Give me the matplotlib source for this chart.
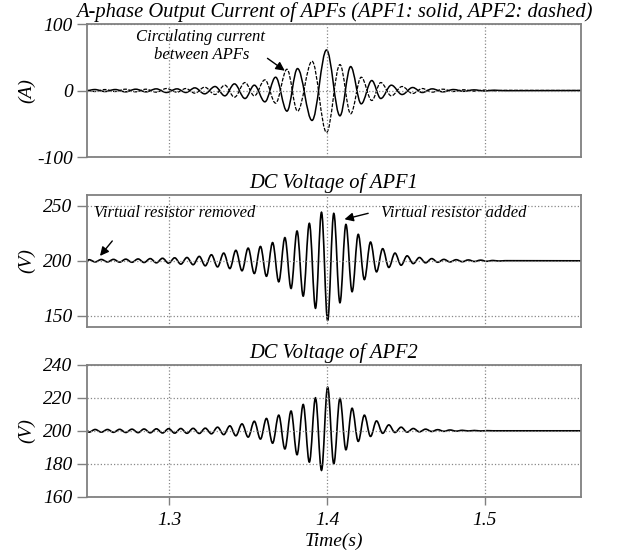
import matplotlib
matplotlib.use("Agg")
import matplotlib.pyplot as plt
from matplotlib.path import Path
from matplotlib.patches import PathPatch

plt.rcParams['font.family'] = ['Liberation Serif', 'DejaVu Serif']
plt.rcParams['font.style'] = 'italic'
plt.rcParams['axes.unicode_minus'] = False

################################### CURRENT (A) ##########################################
# lobe centres of the A-phase output currents (extremes of each half cycle)
t_cur = [1.248, 1.2527, 1.2592, 1.2657, 1.2722, 1.2787, 1.2852, 1.2917, 1.2982, 1.3049,
         1.3105, 1.3162, 1.3224, 1.3290, 1.3352, 1.3413, 1.3480, 1.3539, 1.3606, 1.3674,
         1.3746, 1.3813, 1.3905, 1.3997, 1.4082, 1.4150, 1.4217, 1.4284, 1.4341, 1.4408,
         1.4476, 1.4543, 1.4604, 1.4667, 1.4735, 1.4802, 1.4867, 1.4932, 1.4997, 1.5062,
         1.5127, 1.561]
i_apf1 = [0, 1.5, -1.5, 1.5, -2, 2, -2, 2.5, -3, 2.5,
          -3, 4, -5, 6, -8, 10, -12, 8, -17, 20,
          -31, 33, -45, 61, -38, 36, -20, 15, -12, 8,
          -6, 4.5, -3, 2.5, -2, 1.5, -1.2, 1, -0.7, 0.5,
          -0.3, 0]
i_apf2 = [0, -1.5, 1.5, -1.5, 2, -2, 2, -2.5, 3, -2.5,
          3, -4, 5, -6, 8, -10, 12, -8, 16, -19,
          32, -31, 44, -63, 39, -35, 20, -15, 12, -8,
          6, -4.5, 3, -2.5, 2, -1.5, 1.2, -1, 0.7, -0.5,
          0.3, 0]
##########################################################################################

################################### DC VOLTAGES (V) ######################################
# extremes of the dc-link ripple (APF1 and APF2 swing in opposite directions)
t_dc = [1.248, 1.2491, 1.2530, 1.2569, 1.2608, 1.2646, 1.2685, 1.2724, 1.2763, 1.2802,
        1.2840, 1.2879, 1.2918, 1.2957, 1.2996, 1.3034, 1.3073, 1.3112, 1.3151, 1.3190,
        1.3228, 1.3267, 1.3306, 1.3345, 1.3384, 1.3422, 1.3461, 1.3500, 1.3539, 1.3578,
        1.3616, 1.3655, 1.3694, 1.3733, 1.3772, 1.3810, 1.3849, 1.3888, 1.3927, 1.3965,
        1.4004, 1.4043, 1.4082, 1.4120, 1.4159, 1.4198, 1.4237, 1.4276, 1.4314, 1.4353,
        1.4392, 1.4431, 1.4470, 1.4508, 1.4547, 1.4586, 1.4625, 1.4664, 1.4702, 1.4741,
        1.4780, 1.4819, 1.4858, 1.4896, 1.4935, 1.4974, 1.5013, 1.5052, 1.5090, 1.5129,
        1.561]
v_apf1 = [200, 201, 199, 201.2, 199, 201.3, 198.8, 201.5, 198.7, 201.7,
          198.5, 202, 198.2, 202.3, 197.8, 202.7, 197, 203, 196.5, 204,
          195.5, 205.5, 194.5, 207, 193, 209.5, 191, 211.5, 188.5, 213,
          186, 216.5, 181, 221, 175, 227, 168, 234, 157, 244,
          146, 243, 162, 233, 172, 224, 183, 217, 190, 211,
          194, 207, 196, 204.5, 197.5, 203, 198.2, 202, 198.7, 201.3,
          199, 201, 199.2, 200.8, 199.4, 200.6, 199.6, 200.3, 199.8, 200.1,
          200]
v_apf2 = [200, 199.2, 200.8, 199.2, 200.8, 199.1, 200.9, 199, 201, 198.9,
          201.1, 198.8, 201.2, 198.7, 201.3, 198.6, 201.4, 198.5, 201.5, 198.4,
          201.6, 198.2, 202.2, 197.7, 203, 197, 204.2, 196.2, 205.8, 195,
          207.5, 192.5, 209.5, 189, 212, 185.5, 216, 181, 220, 176,
          226.5, 180, 219.7, 188.5, 213.7, 193.6, 209.5, 196.6, 206, 198.5,
          203.6, 199, 202.2, 199.2, 201.4, 199.4, 201, 199.6, 200.7, 199.7,
          200.5, 199.8, 200.3, 199.9, 200.2, 199.9, 200.1, 200, 200, 200,
          200]
##########################################################################################

x_ticks = [1.3, 1.4, 1.5]
x_tick_labels = ['1.3', '1.4', '1.5']
y_ticks = [[-100, 0, 100], [150, 200, 250], [160, 180, 200, 220, 240]]
y_lims = [(-100, 100), (140, 260), (160, 240)]


def wave(ax, t, v, **kw):
    # smooth curve through the extremes (flat tangent at every peak / trough)
    verts = [(t[0], v[0])]
    codes = [Path.MOVETO]
    for i in range(1, len(t)):
        dt = t[i] - t[i - 1]
        verts += [(t[i - 1] + 0.36 * dt, v[i - 1]), (t[i] - 0.36 * dt, v[i]), (t[i], v[i])]
        codes += [Path.CURVE4] * 3
    ax.add_patch(PathPatch(Path(verts, codes), fill=False, edgecolor='black', **kw))


######################################## PLOT ############################################
fig = plt.figure(figsize=(6.17, 5.56), dpi=100)
ax1 = fig.add_axes([0.1415, 0.7176, 0.800, 0.2392])
ax2 = fig.add_axes([0.1415, 0.4119, 0.800, 0.2380])
ax3 = fig.add_axes([0.1415, 0.1067, 0.800, 0.2369])

wave(ax1, t_cur, i_apf1, lw=1.1)
wave(ax1, t_cur, i_apf2, lw=0.9, linestyle=(0, (3, 1.2)))
wave(ax2, t_dc, v_apf1, lw=1.2)
wave(ax3, t_dc, v_apf2, lw=1.2)

titles = ['A-phase Output Current of APFs (APF1: solid, APF2: dashed)',
          'DC Voltage of APF1', 'DC Voltage of APF2']
units = ['(A)', '(V)', '(V)']
tick_font = dict(fontsize=14, fontstyle='italic', family='Liberation Serif')
for ax, title, unit, yt, yl in zip([ax1, ax2, ax3], titles, units, y_ticks, y_lims):
    ax.set_xlim(1.248, 1.561)
    ax.set_ylim(*yl)
    ax.set_xticks(x_ticks)
    ax.set_xticklabels(x_tick_labels, **tick_font)
    ax.set_yticks(yt)
    ax.set_yticklabels([str(v) for v in yt], **tick_font)
    ax.set_title(title, fontsize=14.8, pad=5)
    ax.set_ylabel(unit, fontsize=14)
    ax.yaxis.set_label_coords(-0.105, 0.5)
    ax.grid(True, linestyle=':', color='#888888', lw=0.9)
    for s in ax.spines.values():
        s.set_color('#808080')
        s.set_linewidth(1.3)
    ax.tick_params(axis='y', direction='out', length=7, width=1, color='#808080', pad=3.5)
    ax.tick_params(axis='x', direction='out', length=6, width=1, color='#808080', pad=5)
for ax in [ax1, ax2]:
    ax.tick_params(axis='x', length=0, labelbottom=False)
ax3.set_xlabel('Time(s)', fontsize=14, labelpad=3)

arrow = dict(arrowstyle='-|>', color='black', lw=1, mutation_scale=13, shrinkA=0, shrinkB=0)
ax1.text(0.23, 0.905, 'Circulating current', transform=ax1.transAxes, fontsize=12,
         ha='center', va='center')
ax1.text(0.232, 0.767, 'between APFs', transform=ax1.transAxes, fontsize=12,
         ha='center', va='center')
ax1.annotate('', xy=(0.40, 0.649), xytext=(0.365, 0.742), xycoords='axes fraction',
             arrowprops=arrow)
ax2.text(0.013, 0.859, 'Virtual resistor removed', transform=ax2.transAxes, fontsize=12,
         ha='left', va='center')
ax2.annotate('', xy=(0.0257, 0.537), xytext=(0.0506, 0.650), xycoords='axes fraction',
             arrowprops=arrow)
ax2.text(0.595, 0.859, 'Virtual resistor added', transform=ax2.transAxes, fontsize=12,
         ha='left', va='center')
ax2.annotate('', xy=(0.521, 0.814), xytext=(0.569, 0.859), xycoords='axes fraction',
             arrowprops=arrow)

plt.savefig('out.png', dpi=100)
##########################################################################################
